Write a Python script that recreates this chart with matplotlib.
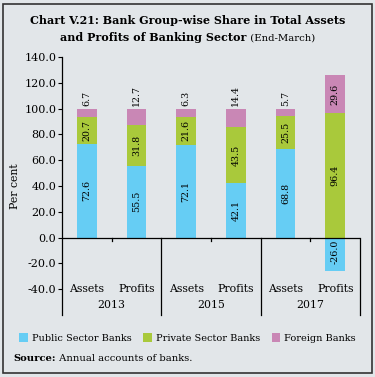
import matplotlib.pyplot as plt
from matplotlib.patches import Rectangle
import numpy as np

plt.rcParams['font.family'] = ['DejaVu Serif']

years = ['2013', '2015', '2017']
kinds = ['Assets', 'Profits']
public = [72.6, 55.5, 72.1, 42.1, 68.8, -26.0]
private = [20.7, 31.8, 21.6, 43.5, 25.5, 96.4]
foreign = [6.7, 12.7, 6.3, 14.4, 5.7, 29.6]
series = ['Public Sector Banks', 'Private Sector Banks', 'Foreign Banks']
colors = ['#66cdf4', '#a9c93b', '#c987b5']
bg = '#e2e6e9'

fig = plt.figure(figsize=(3.75, 3.77), dpi=100, facecolor=bg)
fig.patches.append(Rectangle((0.008, 0.01), 0.984, 0.98, transform=fig.transFigure,
                             fill=False, edgecolor='#333333', lw=1.2))
ax = fig.add_axes([0.1653, 0.1645, 0.7947, 0.6845])
ax.set_facecolor('none')

x = np.arange(6)
w = 0.4
pub = np.array(public)
prv = np.array(private)
frg = np.array(foreign)
base_prv = np.where(pub > 0, pub, 0)
base_frg = base_prv + prv
ax.bar(x, pub, w, color=colors[0], label=series[0], zorder=2)
ax.bar(x, prv, w, bottom=base_prv, color=colors[1], label=series[1], zorder=2)
ax.bar(x, frg, w, bottom=base_frg, color=colors[2], label=series[2], zorder=2)

fs = 6.8
for i in range(6):
    if pub[i] > 0:
        ax.text(x[i], pub[i] / 2, f'{pub[i]:.1f}', rotation=90, ha='center', va='center', fontsize=fs)
    else:
        ax.text(x[i], pub[i] / 2 + 2, f'{pub[i]:.1f}', rotation=90, ha='center', va='center', fontsize=fs)
    ax.text(x[i], base_prv[i] + prv[i] / 2, f'{prv[i]:.1f}', rotation=90, ha='center', va='center', fontsize=fs)
    if frg[i] < 20:
        ax.text(x[i], base_frg[i] + frg[i] + 2, f'{frg[i]:.1f}', rotation=90, ha='center', va='bottom', fontsize=fs)
    else:
        ax.text(x[i], base_frg[i] + frg[i] / 2, f'{frg[i]:.1f}', rotation=90, ha='center', va='center', fontsize=fs)

ax.set_xlim(-0.5, 5.5)
ax.set_ylim(-60, 140)
ax.set_yticks(np.arange(-40, 141, 20))
ax.set_yticklabels([f'{v:.1f}' for v in np.arange(-40, 141, 20)], fontsize=8)
ax.tick_params(axis='y', length=3, width=0.8, pad=1)
ax.set_xticks([])
for s in ['top', 'right', 'bottom']:
    ax.spines[s].set_visible(False)
ax.spines['left'].set_linewidth(0.9)
ax.axhline(0, color='black', lw=0.9, zorder=3)
for b in [1.5, 3.5, 5.5]:
    ax.plot([b, b], [0, -60], color='black', lw=0.9, clip_on=False)
for b in [0.5, 2.5, 4.5]:
    ax.plot([b, b], [0, -3], color='black', lw=0.9)
for i in range(6):
    ax.text(x[i], -40, kinds[i % 2], ha='center', va='center', fontsize=7.8)
for j, yr in enumerate(years):
    ax.text(2 * j + 0.5, -52.5, yr, ha='center', va='center', fontsize=7.8)
ax.set_ylabel('Per cent', fontsize=7.8, labelpad=3)

fig.text(0.5, 0.945, 'Chart V.21: Bank Group-wise Share in Total Assets',
         ha='center', va='center', fontsize=8, fontweight='bold')
t1 = fig.text(0.5, 0.9, 'and Profits of Banking Sector', ha='left', va='center',
              fontsize=8, fontweight='bold')
t2 = fig.text(0.5, 0.9, ' (End-March)', ha='left', va='center', fontsize=7.3)
fig.canvas.draw()
r = fig.canvas.get_renderer()
w1 = t1.get_window_extent(r).width / fig.bbox.width
w2 = t2.get_window_extent(r).width / fig.bbox.width
start = 0.5 - (w1 + w2) / 2
t1.set_x(start)
t2.set_x(start + w1)

handles, labels = ax.get_legend_handles_labels()
fig.legend(handles, labels, loc='center', bbox_to_anchor=(0.5, 0.103), ncol=3,
           frameon=False, fontsize=7, handlelength=0.9, handleheight=0.9,
           handletextpad=0.4, columnspacing=1.2)
s1 = fig.text(0.037, 0.05, 'Source:', fontsize=7.2, fontweight='bold', va='center')
fig.canvas.draw()
ws = s1.get_window_extent(r).width / fig.bbox.width
fig.text(0.037 + ws, 0.05, ' Annual accounts of banks.', fontsize=7.2, va='center')

fig.savefig('out.png', dpi=100, facecolor=bg)
